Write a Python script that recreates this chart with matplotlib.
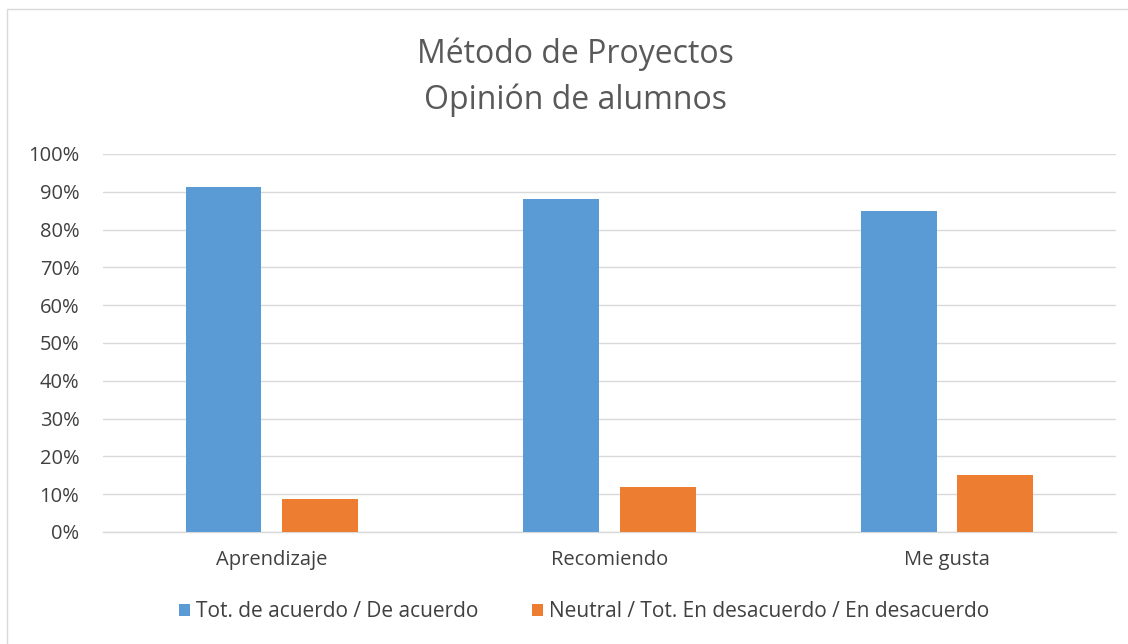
import numpy as np
import matplotlib.pyplot as plt
from matplotlib.patches import Rectangle

categories = ["Aprendizaje", "Recomiendo", "Me gusta"]
acuerdo = [0.913, 0.88, 0.85]
desacuerdo = [0.087, 0.12, 0.15]
series_names = ["Tot. de acuerdo / De acuerdo",
                "Neutral / Tot. En desacuerdo / En desacuerdo"]
title_lines = ["Método de Proyectos", "Opinión de alumnos"]
yticks = np.arange(0, 1.01, 0.1)

plt.rcParams['font.family'] = ['Open Sans', 'DejaVu Sans']
text_color = "#404040"

fig = plt.figure(figsize=(11.28, 6.44), dpi=100)
ax = fig.add_axes([0.0913, 0.174, 0.8977, 0.587])

x = np.arange(len(categories))
w = 0.225
off = 0.143
ax.bar(x - off, acuerdo, w, color="#5B9BD5", label=series_names[0], zorder=3)
ax.bar(x + off, desacuerdo, w, color="#ED7D31", label=series_names[1], zorder=3)

ax.set_xlim(-0.5, len(categories) - 0.5)
ax.set_ylim(0, 1)
ax.set_yticks(yticks)
ax.set_yticklabels([f"{int(round(t * 100))}%" for t in yticks])
ax.set_xticks(x)
ax.set_xticklabels(categories)
ax.tick_params(axis="both", length=0, labelsize=14.5, colors=text_color)
ax.tick_params(axis="x", pad=13)
ax.tick_params(axis="y", pad=17)
ax.grid(axis="y", color="#d9d9d9", linewidth=1, zorder=0)
ax.axhline(0, color="#d9d9d9", linewidth=1, zorder=1, clip_on=False)
for s in ax.spines.values():
    s.set_visible(False)

fig.text(0.51, 0.915, title_lines[0], ha="center", va="center",
         fontsize=23, color="#595959")
fig.text(0.51, 0.845, title_lines[1], ha="center", va="center",
         fontsize=23, color="#595959")

fig.legend(loc="center", bbox_to_anchor=(0.518, 0.05), ncol=2, frameon=False,
           fontsize=15, handlelength=0.5, handleheight=0.5, handletextpad=0.3,
           columnspacing=2.6, labelcolor=text_color)

fig.patches.append(Rectangle((0.006, -0.1), 1.2, 1.086, transform=fig.transFigure,
                             fill=False, edgecolor="#d9d9d9", linewidth=1))

fig.savefig("out.png", dpi=100)
